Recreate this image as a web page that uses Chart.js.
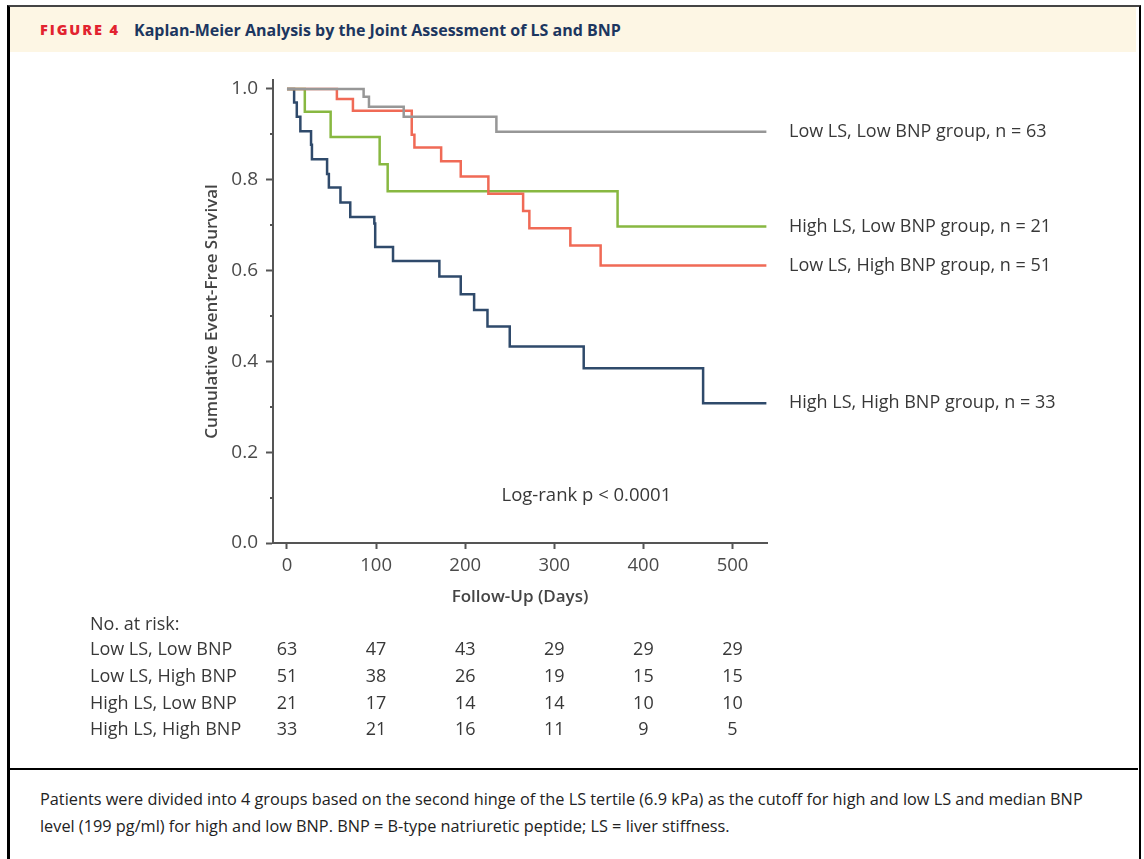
<!DOCTYPE html>
<html>
<head>
<meta charset="utf-8">
<script src="https://cdn.jsdelivr.net/npm/chart.js@4/dist/chart.umd.min.js"></script>
<style>
  html, body { margin: 0; padding: 0; background: #fff; }
  #page { position: relative; width: 1144px; height: 859px; overflow: hidden; font-family: "Open Sans", sans-serif; }
  #frame { position: absolute; left: 7px; top: 5px; width: 1129px; height: 860px;
           border-left: 3px solid #000; border-right: 2px solid #000; border-top: 2px solid #444; }
  #header { position: absolute; left: 10px; top: 7px; width: 1126px; height: 45px; background: #fdf6e4; }
  #header .fig { position: absolute; left: 30px; top: 13px; color: #e2232f; font-weight: 800;
                 font-size: 14.5px; letter-spacing: 1.9px; }
  #header .title { position: absolute; left: 124px; top: 12px; color: #1c3660; font-weight: 700; font-size: 16px; }
  #sep { position: absolute; left: 7px; top: 768px; width: 1131px; height: 2px; background: #000; }
  #caption { position: absolute; left: 40px; top: 786px; width: 1072px; font-size: 16.3px; line-height: 27px; color: #222; }
  canvas { position: absolute; left: 0; top: 0; }
</style>
</head>
<body>
<div id="page">
  <div id="frame"></div>
  <div id="header"><span class="fig">FIGURE 4</span><span class="title">Kaplan-Meier Analysis by the Joint Assessment of LS and BNP</span></div>
  <div id="sep"></div>
  <div id="caption">Patients were divided into 4 groups based on the second hinge of the LS tertile (6.9 kPa) as the cutoff for high and low LS and median BNP level (199 pg/ml) for high and low BNP. BNP = B-type natriuretic peptide; LS = liver stiffness.</div>
  <canvas id="km" width="1144" height="859"></canvas>
</div>
<script>
// axis ticks
const xTicks = [0, 100, 200, 300, 400, 500];
const yTicks = [0, 0.2, 0.4, 0.6, 0.8, 1.0];
const yMinorTicks = [0.1, 0.3, 0.5, 0.7, 0.9];

// groups
const groupNames = ["Low LS, Low BNP", "Low LS, High BNP", "High LS, Low BNP", "High LS, High BNP"];
const groupSizes = [63, 51, 21, 33];
const groupColors = ["#979797", "#f06a56", "#88b841", "#2f4a6b"];

// survival steps (days, survival after the step)
const lowLowDays = [0, 86, 92, 131, 235, 538];
const lowLowSurv = [1.0, 0.983, 0.961, 0.939, 0.906, 0.906];

const lowHighDays = [0, 56, 74, 140, 143, 173, 195, 226, 265, 272, 318, 352, 538];
const lowHighSurv = [1.0, 0.978, 0.952, 0.899, 0.871, 0.841, 0.807, 0.769, 0.731, 0.693, 0.655, 0.611, 0.611];

const highLowDays = [0, 20, 49, 104, 113, 371, 538];
const highLowSurv = [1.0, 0.950, 0.894, 0.834, 0.775, 0.697, 0.697];

const highHighDays = [0, 8, 11, 15, 27, 28, 45, 47, 60, 71, 98, 99, 119, 171, 195, 210, 225, 250, 333, 467, 538];
const highHighSurv = [1.0, 0.970, 0.939, 0.907, 0.877, 0.845, 0.813, 0.783, 0.750, 0.718, 0.704, 0.652, 0.621,
                      0.587, 0.548, 0.513, 0.477, 0.433, 0.385, 0.308, 0.308];

// number at risk at each x tick
const riskLowLow = [63, 47, 43, 29, 29, 29];
const riskLowHigh = [51, 38, 26, 19, 15, 15];
const riskHighLow = [21, 17, 14, 14, 10, 10];
const riskHighHigh = [33, 21, 16, 11, 9, 5];

const logRankText = "Log-rank p < 0.0001";

const allDays = [lowLowDays, lowHighDays, highLowDays, highHighDays];
const allSurv = [lowLowSurv, lowHighSurv, highLowSurv, highHighSurv];
const allRisk = [riskLowLow, riskLowHigh, riskHighLow, riskHighHigh];

const FONT = "'Open Sans', sans-serif";
const TEXT = "#383838";

const datasets = groupNames.map((name, i) => ({
  label: name,
  data: allDays[i].map((d, j) => ({ x: d, y: allSurv[i][j] })),
  borderColor: groupColors[i],
  borderWidth: 2.5,
  pointRadius: 0,
  stepped: "before",
  fill: false,
}));

// labels at curve ends, log-rank note, minor ticks and the risk table
const extrasPlugin = {
  id: "extras",
  afterDraw(chart) {
    const ctx = chart.ctx;
    const xs = chart.scales.x;
    const ys = chart.scales.y;
    const area = chart.chartArea;
    ctx.save();

    // minor y ticks
    ctx.strokeStyle = "#555";
    ctx.lineWidth = 2;
    yMinorTicks.forEach(v => {
      const py = Math.round(ys.getPixelForValue(v));
      ctx.beginPath();
      ctx.moveTo(area.left - 3, py);
      ctx.lineTo(area.left, py);
      ctx.stroke();
    });

    ctx.font = "18px " + FONT;
    ctx.fillStyle = TEXT;
    ctx.textBaseline = "middle";

    // group labels
    ctx.textAlign = "left";
    groupNames.forEach((name, i) => {
      const s = allSurv[i];
      const py = ys.getPixelForValue(s[s.length - 1]);
      ctx.fillText(name + " group, n = " + groupSizes[i], area.right + 22, py);
    });

    // log-rank
    ctx.textAlign = "center";
    ctx.font = "18.5px " + FONT;
    ctx.fillText(logRankText, xs.getPixelForValue(336), ys.getPixelForValue(0.105));

    // risk table
    ctx.font = "18px " + FONT;
    ctx.textAlign = "left";
    ctx.fillText("No. at risk:", 90, 625);
    const rowY = [650, 677, 704, 730];
    groupNames.forEach((name, i) => {
      ctx.textAlign = "left";
      ctx.fillText(name, 90, rowY[i]);
      ctx.textAlign = "center";
      xTicks.forEach((t, j) => {
        ctx.fillText(String(allRisk[i][j]), xs.getPixelForValue(t), rowY[i]);
      });
    });
    ctx.restore();
  }
};

new Chart(document.getElementById("km"), {
  type: "line",
  data: { datasets: datasets },
  plugins: [extrasPlugin],
  options: {
    responsive: false,
    animation: false,
    devicePixelRatio: 1,
    layout: { padding: { left: 198, right: 377, top: 80, bottom: 248 } },
    plugins: { legend: { display: false }, tooltip: { enabled: false } },
    scales: {
      x: {
        type: "linear",
        min: -15.7,
        max: 538.7,
        afterBuildTicks: s => { s.ticks = xTicks.map(v => ({ value: v })); },
        afterFit: s => { s.height = 68; },
        border: { color: "#555", width: 2 },
        grid: { drawOnChartArea: false, tickLength: 6, tickColor: "#555", tickWidth: 2 },
        ticks: { color: "#4a4a4a", font: { family: FONT, size: 18.5 }, padding: 6, maxRotation: 0 },
        title: { display: true, text: "Follow-Up (Days)", color: "#444",
                 font: { family: FONT, size: 17, weight: "600" } }
      },
      y: {
        min: 0,
        max: 1.0198,
        afterBuildTicks: s => { s.ticks = yTicks.map(v => ({ value: v })); },
        afterFit: s => { s.width = 75; },
        border: { color: "#555", width: 2 },
        grid: { drawOnChartArea: false, tickLength: 7, tickColor: "#555", tickWidth: 2 },
        ticks: { color: "#4a4a4a", font: { family: FONT, size: 19 }, padding: 8,
                 callback: v => v.toFixed(1) },
        title: { display: true, text: "Cumulative Event-Free Survival", color: "#444",
                 font: { family: FONT, size: 17, weight: "600" } }
      }
    }
  }
});
</script>
</body>
</html>
